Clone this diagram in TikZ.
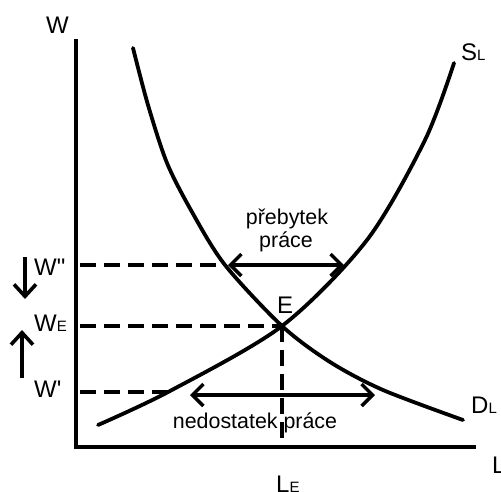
\documentclass[tikz,border=0pt]{standalone}
\usepackage{fontspec}
\newfontfamily\lf{Liberation Sans}
\usetikzlibrary{arrows.meta}
\newcommand\sbs[1]{{\fontsize{15}{15}\selectfont #1}}
\begin{document}
\begin{tikzpicture}[x=1pt,y=-1pt,
  axis/.style={line width=4pt},
  curve/.style={line width=3.8pt, line cap=round},
  guide/.style={line width=3.4pt, dash pattern=on 16pt off 8pt},
  dbl/.style={line width=3.4pt, {Straight Barb[length=11pt,width=22pt]}-{Straight Barb[length=11pt,width=22pt]}},
  move/.style={line width=3.6pt, -{Straight Barb[length=12pt,width=22pt]}},
  lab/.style={inner sep=0pt, font=\lf\fontsize{24}{24}\selectfont},
  txt/.style={inner sep=0pt, font=\lf\fontsize{21.4}{21.4}\selectfont}]
\path[use as bounding box] (0,0) rectangle (501,491);
% axes
\coordinate (Ytop) at (76,39);
\coordinate (Xend) at (476,447);
\draw[axis] (Ytop) |- (Xend);
% curves
\draw[curve] plot[smooth] coordinates {(133,48) (148,105) (167,163) (192,212) (225,265) (282,326) (330,362) (383,390) (463,420)};
\draw[curve] plot[smooth] coordinates {(98,425) (170,391) (282,326) (367,240) (425,140) (454,63)};
% key points
\coordinate (E) at (282,326);
\coordinate (Wpp) at (80,265);
\coordinate (Dpp) at (223,265);
\coordinate (WE) at (80,326);
\coordinate (Wp) at (80,392);
\coordinate (Sp) at (168,392);
\coordinate (LE) at (282,447);
\draw[guide] (Wpp) -- (Dpp);
\draw[guide] (WE) -- (E);
\draw[guide] (Wp) -- (Sp);
\draw[guide] (E) -- (LE);
% double arrows
\coordinate (a1) at (228,265);
\coordinate (a2) at (344,265);
\coordinate (b1) at (190,395);
\coordinate (b2) at (375,395);
\draw[dbl] (a1) -- (a2);
\draw[dbl] (b1) -- (b2);
% movement arrows
\coordinate (d1) at (25,257);
\coordinate (d2) at (25,299);
\coordinate (u1) at (22,378);
\coordinate (u2) at (22,330);
\draw[move] (d1) -- (d2);
\draw[move] (u1) -- (u2);
% labels
\node[lab, anchor=base west] (lW) at (46,33) {W};
\node[lab, anchor=base west] (lS) at (461,60) {S\sbs{L}};
\node[lab, anchor=base west] (lD) at (471,413) {D\sbs{L}};
\node[lab, anchor=base west] (lL) at (492,473) {L};
\node[lab, anchor=base west] (lLE) at (276,492) {L\sbs{E}};
\node[lab, anchor=base west] (lE) at (277,313) {E};
\node[lab, anchor=base west] (lWpp) at (34,275) {W"};
\node[lab, anchor=base west] (lWE) at (34,331) {W\sbs{E}};
\node[lab, anchor=base west] (lWp) at (34,397) {W'};
\node[txt, anchor=base] (t1) at (287,224) {přebytek};
\node[txt, anchor=base] (t2) at (286,247.5) {práce};
\node[txt, anchor=base] (t3) at (255,428) {nedostatek práce};
\end{tikzpicture}
\end{document}
